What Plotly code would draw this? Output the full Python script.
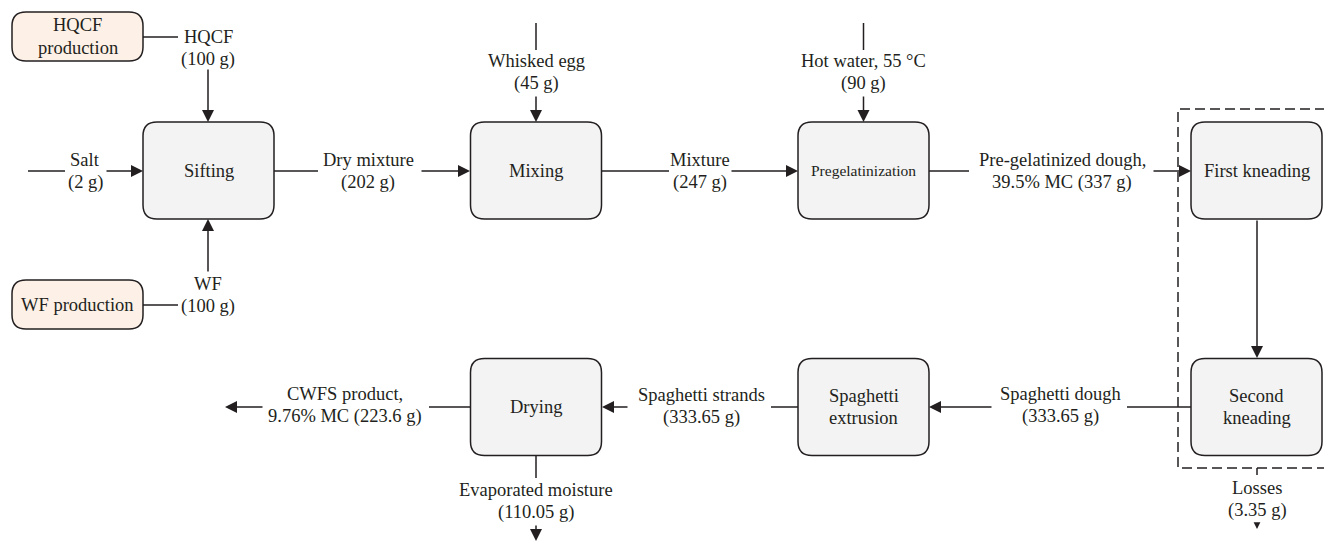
import plotly.graph_objects as go

# ---------------- data ----------------
input_names = ["HQCF", "Salt", "WF", "Whisked egg", "Hot water, 55 °C"]
input_mass_g = [100, 2, 100, 45, 90]

stream_names = ["Dry mixture", "Mixture", "Pre-gelatinized dough,",
                "Spaghetti dough", "Spaghetti strands", "CWFS product,"]
stream_mass_g = [202, 247, 337, 333.65, 333.65, 223.6]
stream_moisture_pct = [None, None, 39.5, None, None, 9.76]

output_names = ["Evaporated moisture", "Losses"]
output_mass_g = [110.05, 3.35]

process_names = ["Sifting", "Mixing", "Pregelatinization", "First kneading",
                 "Second<br>kneading", "Spaghetti<br>extrusion", "Drying"]
source_names = ["HQCF<br>production", "WF production"]

# ---------------- style / layout ----------------
INK = "#231f20"
BOX_FILL = "#f3f3f3"
SRC_FILL = "#fdf1e7"
FONT = "Liberation Serif"
FS = 18.5
LINE_GAP = 22.5

W, H = 1324, 543

# node geometry (pixel layout)
cols = [208.5, 536, 863.5, 1256.5]
rows = [170.5, 407]
hw, hh = 65.5, 48.5
proc_pos = [(cols[0], rows[0]), (cols[1], rows[0]), (cols[2], rows[0]), (cols[3], rows[0]),
            (cols[3], rows[1]), (cols[2], rows[1]), (cols[1], rows[1])]
src_box = [(12, 143, 12, 61), (12, 143, 280, 329)]


def rounded(x0, x1, y0, y1, r):
    return (f"M {x0+r},{y0} L {x1-r},{y0} Q {x1},{y0} {x1},{y0+r} "
            f"L {x1},{y1-r} Q {x1},{y1} {x1-r},{y1} L {x0+r},{y1} "
            f"Q {x0},{y1} {x0},{y1-r} L {x0},{y0+r} Q {x0},{y0} {x0+r},{y0} Z")


shapes = []
annotations = []


def line(x0, y0, x1, y1, dash="solid"):
    shapes.append(dict(type="line", xref="x", yref="y", x0=x0, y0=y0, x1=x1, y1=y1,
                       line=dict(color=INK, width=1.5, dash=dash), layer="above"))


def arrow(x0, y0, x1, y1, size=1.6):
    annotations.append(dict(x=x1, y=y1, ax=x0, ay=y0, xref="x", yref="y",
                            axref="x", ayref="y", text="", showarrow=True,
                            arrowhead=2, arrowsize=size, arrowwidth=1.5,
                            arrowcolor=INK, standoff=0, startstandoff=0))


def label(x, y, text, size=FS):
    parts = text.split("<br>")
    n = len(parts)
    for i, p in enumerate(parts):
        yy = y + (i - (n - 1) / 2) * LINE_GAP
        annotations.append(dict(x=x, y=yy, xref="x", yref="y", text=p, showarrow=False,
                                xanchor="center", yanchor="middle",
                                font=dict(family=FONT, size=size, color=INK)))


def mass_label(name, mass, mc=None):
    if mc is None:
        return f"{name}<br>({mass:g} g)"
    return f"{name}<br>{mc:g}% MC ({mass:g} g)"


# process boxes
for name, (cx, cy) in zip(process_names, proc_pos):
    shapes.append(dict(type="path", xref="x", yref="y",
                       path=rounded(cx - hw, cx + hw, cy - hh, cy + hh, 14),
                       fillcolor=BOX_FILL, line=dict(color=INK, width=1.5), layer="below"))
    label(cx, cy, name, size=15.5 if name == "Pregelatinization" else FS)

# source boxes
for name, (x0, x1, y0, y1) in zip(source_names, src_box):
    shapes.append(dict(type="path", xref="x", yref="y",
                       path=rounded(x0, x1, y0, y1, 14),
                       fillcolor=SRC_FILL, line=dict(color=INK, width=1.5), layer="below"))
    label((x0 + x1) / 2, (y0 + y1) / 2, name)

# dashed kneading enclosure (open to the right edge)
shapes.append(dict(type="path", xref="x", yref="y",
                   path="M 1340,109 L 1178,109 L 1178,468 L 1340,468",
                   line=dict(color=INK, width=1.5, dash="10px,5px"), layer="below"))

# ---- inputs ----
# HQCF
line(143, 37, 178, 37)
label(208, 48, mass_label(input_names[0], input_mass_g[0]))
arrow(208, 68, 208, 122)
# Salt
line(28, 171, 65, 171)
label(85, 171, mass_label(input_names[1], input_mass_g[1]))
arrow(105, 171, 143, 171)
# WF
line(143, 305, 178, 305)
label(208, 295, mass_label(input_names[2], input_mass_g[2]))
arrow(208, 273, 208, 219)
# Whisked egg
line(536, 23, 536, 50)
label(536, 72, mass_label(input_names[3], input_mass_g[3]))
arrow(536, 95, 536, 122)
# Hot water
line(863.5, 23, 863.5, 50)
label(863.5, 72, mass_label(input_names[4], input_mass_g[4]))
arrow(863.5, 95, 863.5, 122)

# ---- main streams ----
# Dry mixture
line(274, 171, 318, 171)
label(368, 171, mass_label(stream_names[0], stream_mass_g[0]))
arrow(420, 171, 470, 171)
# Mixture
line(602, 171, 669, 171)
label(700, 171, mass_label(stream_names[1], stream_mass_g[1]))
arrow(730, 171, 798, 171)
# Pre-gelatinized dough
line(929, 171, 969, 171)
label(1062, 171, mass_label(stream_names[2], stream_mass_g[2], stream_moisture_pct[2]))
arrow(1152, 171, 1191, 171)
# First -> second kneading
arrow(1257, 219, 1257, 358)
# Spaghetti dough
line(1191, 407, 1127, 407)
label(1060, 405, mass_label(stream_names[3], stream_mass_g[3]))
arrow(993, 407, 929, 407)
# Spaghetti strands
line(798, 407, 771, 407)
label(701, 406, mass_label(stream_names[4], stream_mass_g[4]))
arrow(629, 407, 602, 407)
# CWFS product
line(470, 407, 429, 407)
label(345, 405, mass_label(stream_names[5], stream_mass_g[5], stream_moisture_pct[5]))
arrow(264, 407, 225, 407)

# ---- outputs ----
line(536, 456, 536, 478)
label(536, 501, mass_label(output_names[0], output_mass_g[0]))
arrow(536, 524, 536, 541)

line(1257, 468, 1257, 475)
label(1257, 499, mass_label(output_names[1], output_mass_g[1]))
arrow(1257, 524, 1257, 529, size=0.9)

fig = go.Figure()
fig.update_layout(
    width=W, height=H,
    margin=dict(l=0, r=0, t=0, b=0),
    paper_bgcolor="white", plot_bgcolor="white",
    xaxis=dict(range=[0, W], visible=False, fixedrange=True),
    yaxis=dict(range=[H, 0], visible=False, fixedrange=True),
    shapes=shapes, annotations=annotations,
    showlegend=False,
)
fig.write_html("out.html", config={"displayModeBar": False},
               post_script="document.body.style.margin='0';document.body.style.overflow='hidden';")
